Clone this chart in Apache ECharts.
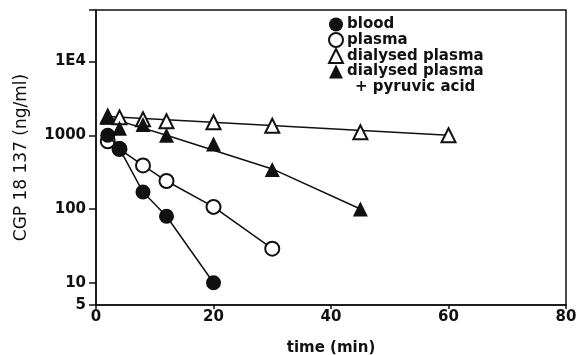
<!DOCTYPE html>
<html>
<head>
<meta charset="utf-8">
<script src="https://cdn.jsdelivr.net/npm/echarts@6/dist/echarts.min.js"></script>
<style>
  html, body { margin: 0; padding: 0; background: #fff; }
  #chart { width: 579px; height: 355px; }
</style>
</head>
<body>
<div id="chart"></div>
<script>
// measured points, [time (min), CGP 18 137 (ng/ml)]
const blood = [[2, 1000], [4, 660], [8, 170], [12, 80], [20, 10]];
const plasma = [[2, 830], [4, 650], [8, 390], [12, 240], [20, 107], [30, 29]];
const dialysed = [[2, 1800], [4, 1750], [8, 1650], [12, 1550], [20, 1500], [30, 1350], [45, 1100], [60, 1000]];
const dialysedPyr = [[2, 1750], [4, 1250], [8, 1400], [12, 1000], [20, 760], [30, 345], [45, 100]];

// fitted curves drawn through the triangles
const dialysedFit = [[2, 1800], [60, 1000]];
const dialysedPyrFit = [[2, 1750], [12, 1000], [30, 350], [45, 100]];

const xTicks = [0, 20, 40, 60, 80];
const yLabels = { 5: "5", 10: "10", 100: "100", 1000: "1000", 10000: "1E4" };

const FONT = "DejaVu Sans";
const BLACK = "#111";

const chart = echarts.init(document.getElementById("chart"));

const openStyle = { color: "#fff", borderColor: BLACK, borderWidth: 2, opacity: 1 };
const fillStyle = { color: BLACK, borderColor: BLACK, borderWidth: 0, opacity: 1 };

chart.setOption({
  animation: false,
  backgroundColor: "#fff",
  grid: { left: 96, right: 13, top: 10, bottom: 50, show: true, borderColor: BLACK, borderWidth: 1.5,
    outerBoundsMode: "none", containLabel: false },
  legend: {
    orient: "vertical",
    left: 328, top: 17, padding: 0,
    itemWidth: 14, itemHeight: 14, itemGap: 0,
    data: [
      { name: "blood", icon: "circle" },
      { name: "plasma", icon: "circle" },
      { name: "dialysed plasma", icon: "triangle" },
      { name: "dialysed plasma + pyruvic acid", icon: "triangle" }
    ],
    formatter: n => n === "dialysed plasma + pyruvic acid" ? "dialysed plasma" : n,
    textStyle: { fontFamily: FONT, fontWeight: "bold", fontSize: 15, lineHeight: 14, color: BLACK, padding: [0, 0, 0, -1] }
  },
  graphic: [{
    type: "text", left: 355, top: 80,
    style: { text: "+ pyruvic acid", font: "bold 15px " + FONT, fill: BLACK }
  }],
  xAxis: {
    type: "value", min: 0, max: 80, interval: 20,
    name: "time (min)", nameLocation: "middle", nameGap: 36,
    nameTextStyle: { fontFamily: FONT, fontWeight: "bold", fontSize: 15, color: BLACK },
    axisLine: { lineStyle: { color: BLACK, width: 1.5 } },
    axisTick: { length: 4, lineStyle: { color: BLACK, width: 1.5 } },
    axisLabel: { fontFamily: FONT, fontWeight: "bold", fontSize: 15, color: BLACK, margin: 5,
      formatter: v => xTicks.includes(v) ? String(v) : "" },
    splitLine: { show: false }
  },
  yAxis: {
    type: "log", logBase: 10, min: 5, max: 50000,
    name: "CGP 18 137 (ng/ml)", nameLocation: "middle", nameGap: 66,
    nameTextStyle: { fontFamily: FONT, fontSize: 17, color: BLACK },
    axisLine: { lineStyle: { color: BLACK, width: 1.5 } },
    axisTick: { length: 7, lineStyle: { color: BLACK, width: 1.5 } },
    axisLabel: { fontFamily: FONT, fontWeight: "bold", fontSize: 15, color: BLACK, margin: 10,
      formatter: v => yLabels[Math.round(v)] || "" },
    splitLine: { show: false }
  },
  series: [
    {
      name: "dialysed plasma fit", type: "line", data: dialysedFit, showSymbol: false,
      lineStyle: { color: BLACK, width: 1.5 }, silent: true, z: 1
    },
    {
      name: "dialysed plasma + pyruvic acid fit", type: "line", data: dialysedPyrFit, showSymbol: false,
      lineStyle: { color: BLACK, width: 1.5 }, silent: true, z: 1
    },
    {
      name: "blood", type: "line", data: blood, symbol: "circle", symbolSize: 15,
      lineStyle: { color: BLACK, width: 1.5 }, itemStyle: fillStyle, z: 3
    },
    {
      name: "plasma", type: "line", data: plasma, symbol: "circle", symbolSize: 14,
      lineStyle: { color: BLACK, width: 1.5 }, itemStyle: openStyle, z: 2
    },
    {
      name: "dialysed plasma", type: "scatter", data: dialysed, symbol: "triangle", symbolSize: 14,
      itemStyle: openStyle, z: 4
    },
    {
      name: "dialysed plasma + pyruvic acid", type: "scatter", data: dialysedPyr, symbol: "triangle", symbolSize: 15,
      itemStyle: fillStyle, z: 5
    }
  ]
});

window.addEventListener("resize", () => chart.resize());
</script>
</body>
</html>
